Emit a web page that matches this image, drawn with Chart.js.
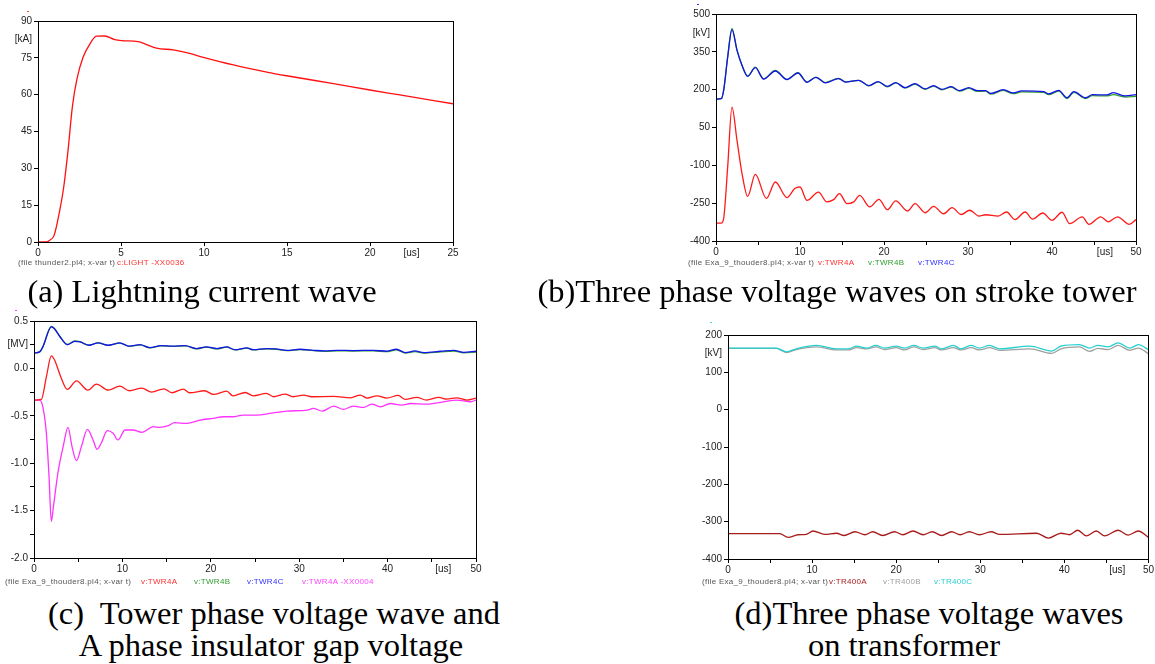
<!DOCTYPE html>
<html>
<head>
<meta charset="utf-8">
<script src="https://cdn.jsdelivr.net/npm/chart.js@4.4.1/dist/chart.umd.min.js"></script>
<style>
    body { margin: 0; background: #fff; width: 1155px; height: 664px; position: relative; overflow: hidden; }
    canvas { position: absolute; }
    .foot { position: absolute; font-family: 'Liberation Sans', Arial, sans-serif; font-size: 8px; line-height: 10px; letter-spacing: 0.3px; color: #555; white-space: pre; }
    .cap { position: absolute; font-family: 'Liberation Serif', 'Times New Roman', serif; font-size: 32.5px; line-height: 32px; color: #000; text-align: center; white-space: pre; }
    .dot { position: absolute; width: 2px; height: 1px; }
</style>
</head>
<body>
<canvas id="chartA" width="470" height="262" style="left:0;top:0"></canvas>
<canvas id="chartB" width="515" height="262" style="left:640px;top:0"></canvas>
<canvas id="chartC" width="490" height="280" style="left:0;top:300px"></canvas>
<canvas id="chartD" width="515" height="260" style="left:640px;top:320px"></canvas>

<div class="dot" style="left:27px;top:11px;background:#f44"></div>
<div class="dot" style="left:697px;top:4px;background:#33f"></div>
<div class="dot" style="left:15px;top:310px;background:#f4f"></div>
<div class="dot" style="left:710px;top:322px;background:#3dd"></div>

<div class="foot" style="left:18px;top:258px">(file thunder2.pl4; x-var t)</div>
<div class="foot" style="left:117px;top:258px;color:#ff3030">c:LIGHT -XX0036</div>

<div class="foot" style="left:688px;top:258px">(file Exa_9_thouder8.pl4; x-var t)</div>
<div class="foot" style="left:818px;top:258px;color:#ff3030">v:TWR4A</div>
<div class="foot" style="left:868px;top:258px;color:#2e9e2e">v:TWR4B</div>
<div class="foot" style="left:918px;top:258px;color:#3030ff">v:TWR4C</div>

<div class="foot" style="left:5px;top:577px">(file Exa_9_thouder8.pl4; x-var t)</div>
<div class="foot" style="left:141px;top:577px;color:#ff3030">v:TWR4A</div>
<div class="foot" style="left:194px;top:577px;color:#2e9e2e">v:TWR4B</div>
<div class="foot" style="left:247px;top:577px;color:#3030ff">v:TWR4C</div>
<div class="foot" style="left:302px;top:577px;color:#ff40ff">v:TWR4A -XX0004</div>

<div class="foot" style="left:702px;top:577px">(file Exa_9_thouder8.pl4; x-var t)</div>
<div class="foot" style="left:829px;top:577px;color:#a81c1c">v:TR400A</div>
<div class="foot" style="left:883px;top:577px;color:#a0a0a0">v:TR400B</div>
<div class="foot" style="left:934px;top:577px;color:#26d0d0">v:TR400C</div>

<div class="cap" style="left:0;top:275px;width:404px">(a) Lightning current wave</div>
<div class="cap" style="left:537px;top:275px;width:600px">(b)Three phase voltage waves on stroke tower</div>
<div class="cap" style="left:0;top:597px;width:548px">(c)  Tower phase voltage wave and</div>
<div class="cap" style="left:0;top:629px;width:542px">A phase insulator gap voltage</div>
<div class="cap" style="left:729px;top:597px;width:400px">(d)Three phase voltage waves</div>
<div class="cap" style="left:704px;top:629px;width:400px">on transformer</div>

<script>
// (a) courant de foudre [kA]
const aTime = [0, 0.5, 0.7, 0.97, 1.27, 1.55, 1.81, 2.07, 2.35, 2.72, 3.08, 3.52, 4.02, 4.62, 5.03, 6.03, 6.54, 7.14, 8.15, 8.95, 9.96, 11.77, 13.78, 14.98, 17.8, 20, 21.8, 25];
const aCurrent = [0, 0, 0.7, 2.7, 11.5, 22.4, 37.3, 55, 66.5, 75.3, 80.1, 83.8, 83.9, 82.4, 82.0, 81.6, 80.4, 79.0, 78.2, 77.1, 75.2, 72.1, 69.2, 67.7, 64.5, 61.9, 59.9, 56.3];

// (b) tensions de phase sur le pylône frappé [kV]
const bTimeBC = [0, 0.63, 0.91, 1.39, 1.9, 2.5, 3.1, 3.77, 4.68, 5.67, 7.06, 8.45, 9.76, 10.83, 11.9, 13.0, 14.6, 15.4, 17.0, 18.2, 19.3, 20.4, 21.4, 22.5, 23.7, 24.9, 25.9, 26.9, 28.0, 29.0, 30.1, 31.1, 32.1, 32.7, 34.2, 35.4, 36.4, 39.0, 39.6, 40.8, 41.8, 42.6, 44.0, 44.8, 46.5, 47.3, 48.7, 50];
const bPhaseC = [162, 164, 197, 329, 438, 356, 296, 253, 287, 242, 274, 240, 266, 229, 249, 227, 244, 230, 237, 216, 232, 213, 228, 208, 224, 203, 216, 201, 212, 196, 208, 196, 196, 185, 200, 187, 195, 192, 183, 197, 168, 192, 168, 180, 179, 188, 175, 180];
const bPhaseB = [162, 164, 197, 330, 443, 358, 297, 254, 289, 243, 276, 241, 267, 230, 250, 228, 245, 231, 237, 215, 231, 211, 227, 206, 222, 201, 214, 199, 210, 194, 205, 193, 194, 182, 197, 184, 191, 189, 180, 194, 165, 189, 165, 176, 175, 180, 171, 174];
const bTimeA = [0, 0.63, 0.91, 1.39, 1.9, 2.5, 3.1, 3.77, 4.68, 6.0, 7.06, 8.45, 9.37, 10.0, 10.83, 12.2, 13.2, 14.0, 14.7, 15.6, 16.4, 17.1, 18.3, 19.4, 20.4, 21.4, 22.8, 23.7, 24.9, 25.9, 27.1, 28.1, 29.2, 30.2, 31.3, 32.1, 33.6, 34.6, 35.6, 36.8, 37.7, 38.9, 40.0, 41.2, 42.1, 43.6, 44.4, 45.8, 46.7, 47.8, 49.2, 50];
const bPhaseA = [-329, -329, -311, -107, 131, -1, -133, -223, -136, -231, -166, -228, -192, -186, -239, -206, -245, -236, -212, -252, -245, -219, -265, -235, -276, -241, -281, -252, -288, -263, -292, -268, -295, -278, -301, -296, -301, -285, -315, -285, -313, -289, -318, -286, -331, -304, -334, -304, -324, -304, -334, -315];

// (c) tensions de phase et tension d'isolateur phase A [MV]
const cTimeBC = [0, 0.64, 1.0, 1.96, 2.3, 2.9, 3.78, 4.6, 5.2, 6.2, 7.25, 8.4, 9.7, 10.8, 12.0, 13.1, 14.4, 15.7, 17.1, 18.4, 19.5, 20.7, 21.8, 22.7, 24.1, 24.8, 26.3, 27.4, 28.6, 30.1, 31.6, 32.9, 34.3, 36.1, 38.4, 39.9, 41.0, 42.0, 43.1, 44.1, 46.0, 47.5, 48.6, 50];
const cPhaseC = [0.163, 0.174, 0.227, 0.437, 0.419, 0.339, 0.251, 0.286, 0.279, 0.244, 0.269, 0.244, 0.269, 0.234, 0.251, 0.219, 0.241, 0.234, 0.241, 0.209, 0.227, 0.209, 0.227, 0.198, 0.216, 0.198, 0.209, 0.205, 0.191, 0.202, 0.191, 0.184, 0.191, 0.188, 0.191, 0.181, 0.202, 0.167, 0.184, 0.167, 0.181, 0.191, 0.170, 0.181];
const cPhaseB = [0.163, 0.174, 0.227, 0.442, 0.424, 0.342, 0.252, 0.29, 0.282, 0.245, 0.27, 0.243, 0.267, 0.232, 0.249, 0.217, 0.239, 0.232, 0.238, 0.206, 0.224, 0.206, 0.224, 0.195, 0.213, 0.195, 0.206, 0.201, 0.187, 0.198, 0.187, 0.18, 0.186, 0.183, 0.186, 0.176, 0.196, 0.162, 0.178, 0.162, 0.175, 0.183, 0.165, 0.173];
const cTimeA = [0, 0.83, 1.4, 1.96, 2.34, 3.0, 3.78, 4.8, 6.1, 7.06, 8.4, 9.7, 10.8, 12.2, 13.3, 14.7, 15.6, 16.9, 17.6, 19.3, 20.3, 21.8, 22.5, 23.9, 24.8, 26.3, 27.1, 28.4, 29.3, 30.5, 31.4, 33.9, 35.8, 36.9, 37.7, 38.8, 39.9, 41.2, 42.0, 43.3, 44.4, 45.8, 46.7, 47.8, 49.0, 50];
const cPhaseA = [-0.334, -0.327, -0.089, 0.132, 0.086, -0.082, -0.222, -0.131, -0.229, -0.166, -0.229, -0.187, -0.236, -0.208, -0.250, -0.215, -0.257, -0.218, -0.257, -0.236, -0.275, -0.240, -0.289, -0.254, -0.289, -0.264, -0.299, -0.271, -0.299, -0.282, -0.299, -0.296, -0.310, -0.282, -0.313, -0.289, -0.313, -0.285, -0.327, -0.306, -0.334, -0.306, -0.324, -0.310, -0.334, -0.313];
const cTimeGap = [0, 0.64, 1.0, 1.4, 1.7, 1.96, 2.2, 2.7, 3.3, 3.85, 4.3, 4.8, 5.36, 6.04, 6.68, 7.14, 7.6, 8.3, 8.95, 9.5, 10.3, 11.2, 12.2, 13.5, 14.2, 15.2, 15.9, 17.3, 18.8, 20.3, 21.4, 22.5, 23.7, 25.2, 26.7, 28.6, 30.9, 31.6, 32.6, 33.9, 35.0, 36.1, 37.3, 38.2, 39.2, 40.3, 41.6, 42.6, 44.4, 46.3, 47.8, 49.4, 50];
const cGapA = [-0.334, -0.334, -0.405, -0.685, -1.141, -1.614, -1.457, -1.106, -0.825, -0.622, -0.825, -0.973, -0.825, -0.643, -0.755, -0.853, -0.790, -0.657, -0.685, -0.755, -0.650, -0.650, -0.675, -0.615, -0.622, -0.604, -0.573, -0.580, -0.545, -0.527, -0.510, -0.510, -0.492, -0.492, -0.475, -0.450, -0.440, -0.422, -0.450, -0.398, -0.433, -0.398, -0.412, -0.377, -0.405, -0.370, -0.387, -0.370, -0.377, -0.352, -0.334, -0.352, -0.334];

// (d) tensions sur le transformateur [kV]
const dTimeBC = [0, 5.75, 6.94, 8.13, 10.5, 12.9, 14.3, 15.3, 16.5, 17.6, 18.6, 20.0, 21.0, 22.1, 23.2, 24.6, 25.4, 26.8, 27.7, 28.9, 29.9, 31.1, 32.3, 35.9, 38.5, 39.6, 41.8, 43.0, 44.0, 45.2, 46.4, 47.8, 48.8, 50];
const dPhaseC = [165, 165, 155, 163, 172, 163, 163, 170, 165, 172, 165, 170, 165, 172, 165, 170, 163, 172, 163, 172, 165, 172, 163, 170, 157, 170, 174, 165, 172, 168, 179, 165, 174, 161];
const dPhaseB = [164, 164, 153, 161, 168, 160, 160, 166, 163, 168, 161, 166, 160, 168, 161, 166, 160, 166, 160, 166, 160, 166, 159, 163, 151, 163, 168, 156, 164, 161, 172, 159, 165, 150];
const dTimeA = [0, 6.15, 7.14, 8.33, 9.3, 10.1, 11.5, 12.9, 13.8, 15.1, 16.3, 17.2, 18.4, 19.8, 20.8, 22.0, 23.2, 24.3, 25.4, 26.6, 27.6, 28.7, 29.9, 31.3, 32.3, 36.7, 38.1, 39.6, 40.6, 41.6, 42.6, 43.8, 44.8, 46.4, 47.6, 48.8, 50];
const dPhaseA = [-332, -332, -342, -335, -334, -325, -334, -331, -337, -327, -335, -327, -337, -327, -335, -325, -335, -327, -337, -327, -335, -327, -335, -327, -334, -331, -344, -331, -335, -323, -338, -325, -338, -323, -336, -325, -342];

// graduations et étiquettes des axes
const aXTicks = [0, 5, 10, 15, 20, 22.5, 25];
const aXLabels = ['0', '5', '10', '15', '20', '[us]', '25'];
const aYTicks = [0, 15, 30, 45, 60, 75, 82.5, 90];
const aYLabels = ['0', '15', '30', '45', '60', '75', '[kA]', '90'];

const usTicks = [0, 5, 10, 15, 20, 25, 30, 35, 40, 45, 46.3, 50];
const usLabels = ['0', '', '10', '', '20', '', '30', '', '40', '', '[us]', '50'];

const bYTicks = [-400, -250, -100, 50, 200, 350, 425, 500];
const bYLabels = ['-400', '-250', '-100', '50', '200', '350', '[kV]', '500'];

const cYTicks = [-2.0, -1.75, -1.5, -1.25, -1.0, -0.75, -0.5, -0.25, 0.0, 0.25, 0.5];
const cYLabels = ['-2.0', '', '-1.5', '', '-1.0', '', '-0.5', '', '0.0', '[MV]', '0.5'];

const dYTicks = [-400, -300, -200, -100, 0, 100, 150, 200];
const dYLabels = ['-400', '-300', '-200', '-100', '0', '100', '[kV]', '200'];

// cadre complet autour de la zone de tracé
const frame = {
    id: 'frame',
    afterDatasetsDraw(chart) {
        const { ctx, chartArea: a } = chart;
        ctx.save();
        ctx.strokeStyle = '#000';
        ctx.lineWidth = 1;
        ctx.strokeRect(Math.round(a.left) + 0.5, Math.round(a.top) + 0.5,
            Math.round(a.right - a.left), Math.round(a.bottom - a.top));
        ctx.restore();
    }
};

function axis(dir, min, max, ticks, labels, noMark, size) {
    return {
        type: 'linear',
        min: min,
        max: max,
        afterBuildTicks: s => { s.ticks = ticks.map(v => ({ value: v })); },
        afterFit: s => { if (dir === 'x') s.height = size; else s.width = size; },
        ticks: {
            autoSkip: false,
            maxRotation: 0,
            padding: dir === 'x' ? 1 : 2,
            color: '#222',
            font: { family: "'Liberation Sans', Arial, sans-serif", size: 10 },
            callback: (v, i) => labels[i]
        },
        grid: {
            drawOnChartArea: false,
            tickLength: 4,
            tickColor: c => (c.tick && noMark.includes(c.tick.value)) ? 'rgba(0,0,0,0)' : '#000'
        },
        border: { display: false }
    };
}

function series(t, v, color) {
    return {
        data: t.map((x, i) => ({ x: x, y: v[i] })),
        borderColor: color,
        borderWidth: 1.3,
        pointRadius: 0,
        fill: false
    };
}

function plot(id, datasets, x, y, pad) {
    new Chart(document.getElementById(id), {
        type: 'line',
        data: { datasets: datasets },
        options: {
            responsive: false,
            animation: false,
            devicePixelRatio: 1,
            layout: { padding: pad },
            elements: { line: { cubicInterpolationMode: 'monotone' } },
            plugins: { legend: { display: false }, tooltip: { enabled: false } },
            scales: { x: x, y: y }
        },
        plugins: [frame]
    });
}

plot('chartA',
    [series(aTime, aCurrent, '#ff1010')],
    axis('x', 0, 25, aXTicks, aXLabels, [22.5], 20),
    axis('y', 0, 90, aYTicks, aYLabels, [82.5], 38),
    { left: 0, top: 21, right: 17, bottom: 0 });

plot('chartB',
    [series(bTimeBC, bPhaseC, '#1414e6'), series(bTimeBC, bPhaseB, '#2e9e2e'), series(bTimeA, bPhaseA, '#ff1a1a')],
    axis('x', 0, 50, usTicks, usLabels, [46.3], 21),
    axis('y', -400, 500, bYTicks, bYLabels, [425], 76),
    { left: 0, top: 14, right: 19, bottom: 0 });

plot('chartC',
    [series(cTimeBC, cPhaseC, '#1414e6'), series(cTimeBC, cPhaseB, '#2e9e2e'), series(cTimeA, cPhaseA, '#ff1a1a'), series(cTimeGap, cGapA, '#ff33ff')],
    axis('x', 0, 50, usTicks, usLabels, [46.3], 22),
    axis('y', -2.0, 0.5, cYTicks, cYLabels, [], 34),
    { left: 0, top: 21, right: 14, bottom: 0 });

plot('chartD',
    [series(dTimeBC, dPhaseC, '#26d0d0'), series(dTimeBC, dPhaseB, '#a0a0a0'), series(dTimeA, dPhaseA, '#a81c1c')],
    axis('x', 0, 50, usTicks, usLabels, [46.3], 21),
    axis('y', -400, 200, dYTicks, dYLabels, [150], 88),
    { left: 0, top: 15, right: 6, bottom: 0 });
</script>
</body>
</html>
